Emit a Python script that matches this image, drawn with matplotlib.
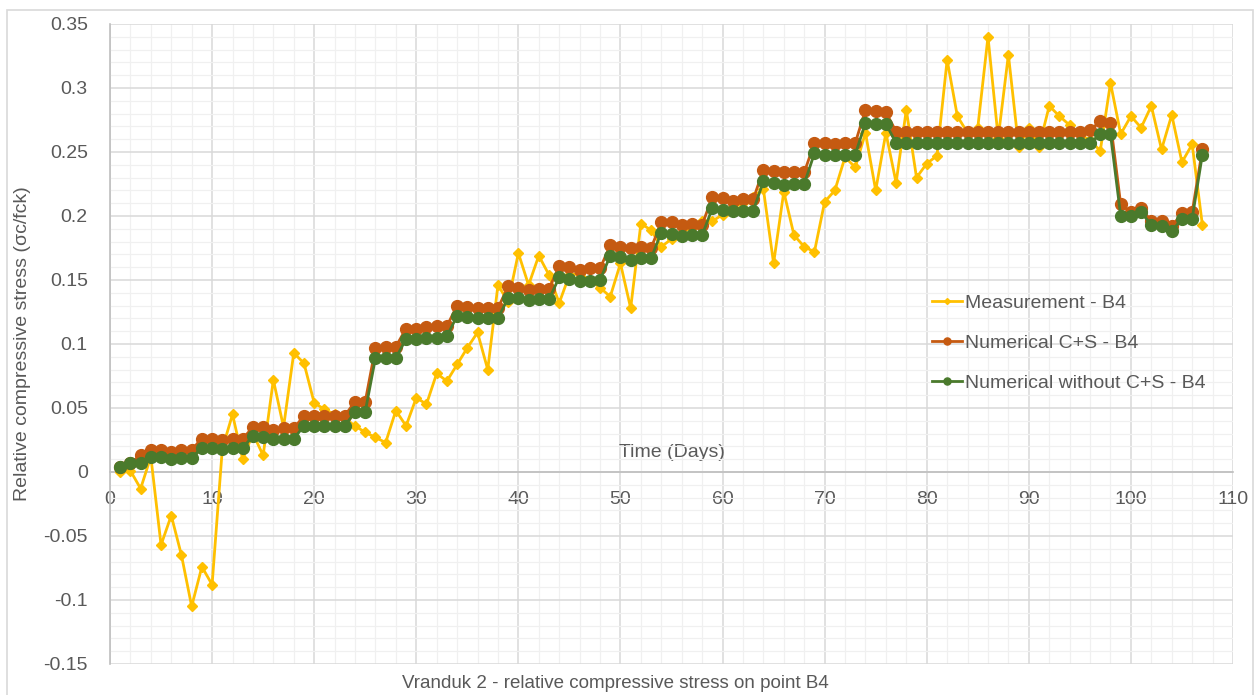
import matplotlib
matplotlib.use("Agg")
import matplotlib.pyplot as plt
from matplotlib.patches import Rectangle

# --- Data ---

days = list(range(1, 108))

measurement = [
    0.000, 0.001, -0.013, 0.012, -0.057, -0.034, -0.065, -0.105, -0.074, -0.088,
    0.018, 0.045, 0.010, 0.030, 0.013, 0.072, 0.035, 0.093, 0.085, 0.054,
    0.049, 0.045, 0.042, 0.036, 0.031, 0.027, 0.023, 0.048, 0.036, 0.058,
    0.053, 0.077, 0.071, 0.084, 0.097, 0.109, 0.080, 0.146, 0.133, 0.171,
    0.146, 0.169, 0.154, 0.132, 0.154, 0.155, 0.150, 0.144, 0.137, 0.163,
    0.128, 0.194, 0.189, 0.176, 0.182, 0.187, 0.191, 0.196, 0.196, 0.201,
    0.207, 0.210, 0.215, 0.221, 0.163, 0.219, 0.185, 0.176, 0.172, 0.211,
    0.220, 0.246, 0.238, 0.265, 0.220, 0.265, 0.226, 0.283, 0.230, 0.241,
    0.247, 0.322, 0.278, 0.265, 0.269, 0.340, 0.261, 0.326, 0.254, 0.269,
    0.254, 0.286, 0.278, 0.271, 0.264, 0.259, 0.251, 0.304, 0.264, 0.278,
    0.269, 0.286, 0.252, 0.279, 0.242, 0.256, 0.193,
]

numerical_cs = [
    0.004, 0.007, 0.013, 0.017, 0.0175, 0.016, 0.017, 0.0175, 0.026, 0.026,
    0.025, 0.026, 0.026, 0.035, 0.035, 0.033, 0.034, 0.034, 0.044, 0.044,
    0.044, 0.044, 0.044, 0.055, 0.055, 0.097, 0.098, 0.098, 0.112, 0.112,
    0.113, 0.114, 0.114, 0.130, 0.129, 0.128, 0.128, 0.128, 0.145, 0.144,
    0.142, 0.143, 0.143, 0.161, 0.160, 0.158, 0.159, 0.159, 0.177, 0.176,
    0.175, 0.176, 0.175, 0.195, 0.195, 0.193, 0.194, 0.193, 0.215, 0.214,
    0.212, 0.213, 0.213, 0.236, 0.235, 0.234, 0.234, 0.234, 0.257, 0.257,
    0.256, 0.257, 0.257, 0.283, 0.282, 0.281, 0.266, 0.266, 0.266, 0.266,
    0.266, 0.266, 0.266, 0.266, 0.266, 0.266, 0.266, 0.266, 0.266, 0.266,
    0.266, 0.266, 0.266, 0.266, 0.266, 0.267, 0.274, 0.273, 0.209, 0.203,
    0.206, 0.196, 0.196, 0.192, 0.202, 0.203, 0.252,
]

numerical_no_cs = [
    0.004, 0.007, 0.007, 0.012, 0.012, 0.010, 0.011, 0.011, 0.019, 0.019,
    0.018, 0.019, 0.019, 0.028, 0.027, 0.026, 0.026, 0.026, 0.036, 0.036,
    0.036, 0.036, 0.036, 0.047, 0.047, 0.089, 0.089, 0.089, 0.104, 0.104,
    0.105, 0.105, 0.106, 0.122, 0.121, 0.120, 0.120, 0.120, 0.136, 0.136,
    0.134, 0.135, 0.135, 0.152, 0.151, 0.149, 0.149, 0.150, 0.169, 0.168,
    0.166, 0.167, 0.167, 0.187, 0.186, 0.184, 0.185, 0.185, 0.206, 0.205,
    0.204, 0.204, 0.204, 0.227, 0.226, 0.224, 0.225, 0.225, 0.249, 0.248,
    0.248, 0.248, 0.248, 0.273, 0.272, 0.272, 0.257, 0.257, 0.257, 0.257,
    0.257, 0.257, 0.257, 0.257, 0.257, 0.257, 0.257, 0.257, 0.257, 0.257,
    0.257, 0.257, 0.257, 0.257, 0.257, 0.257, 0.264, 0.264, 0.200, 0.200,
    0.203, 0.193, 0.192, 0.188, 0.198, 0.198, 0.248,
]

series_labels = ["Measurement - B4", "Numerical C+S - B4", "Numerical without C+S - B4"]
x_ticks = [0, 10, 20, 30, 40, 50, 60, 70, 80, 90, 100, 110]
y_ticks = [-0.15, -0.1, -0.05, 0, 0.05, 0.1, 0.15, 0.2, 0.25, 0.3, 0.35]
y_tick_labels = ["-0.15", "-0.1", "-0.05", "0", "0.05", "0.1", "0.15",
                 "0.2", "0.25", "0.3", "0.35"]

plt.rcParams["font.family"] = ["Liberation Sans", "DejaVu Sans"]
fs = 14
text_color = "#595959"

fig = plt.figure(figsize=(12.58, 6.95), dpi=100)
ax = fig.add_axes([110 / 1258, 1 - 664 / 695, (1233 - 110) / 1258, (664 - 24) / 695])

# outer chart border
fig.patches.append(Rectangle((7 / 1258, -0.05), 1246 / 1258, 1.05 - 10 / 695,
                             transform=fig.transFigure, fill=False,
                             edgecolor="#D9D9D9", linewidth=1.2))

ax.plot(days, measurement, color="#FFC000", marker="D", markersize=5,
        linewidth=2, label=series_labels[0], zorder=3)
ax.plot(days, numerical_cs, color="#C55A11", marker="o", markersize=8.5,
        linewidth=2, label=series_labels[1], zorder=4)
ax.plot(days, numerical_no_cs, color="#4A7A2C", marker="o", markersize=8.5,
        linewidth=2, label=series_labels[2], zorder=5)

ax.set_xlim(0, 110)
ax.set_ylim(-0.15, 0.35)
ax.set_xticks(x_ticks)
ax.set_yticks(y_ticks)
ax.set_xticks(list(range(0, 111, 2)), minor=True)
ax.set_yticks([i / 100 for i in range(-15, 36)], minor=True)
ax.set_yticklabels(y_tick_labels)

ax.grid(which="major", color="#D9D9D9", linewidth=1.1, zorder=0)
ax.grid(which="minor", color="#F0F0F0", linewidth=0.9, zorder=0)
ax.set_axisbelow(True)

for side in ["top", "right"]:
    ax.spines[side].set_visible(False)
ax.spines["bottom"].set_position(("data", 0))
ax.spines["bottom"].set_color("#BFBFBF")
ax.spines["left"].set_color("#BFBFBF")
ax.spines["bottom"].set_linewidth(1.2)
ax.spines["left"].set_linewidth(1.2)

ax.tick_params(which="both", length=0)
ax.tick_params(axis="y", pad=16, labelsize=fs, labelcolor=text_color)
ax.tick_params(axis="x", pad=14, labelsize=fs, labelcolor=text_color)

ax.set_xlabel("Time (Days)", fontsize=fs, color=text_color)
ax.xaxis.set_label_coords(0.5, 0.33)
ax.xaxis.label.set_va("center")
ax.set_ylabel("Relative compressive stress (\u03c3c/fck)", fontsize=fs, color=text_color)
ax.yaxis.set_label_coords(-0.078, 0.5)
ax.yaxis.label.set_va("center")

leg = ax.legend(loc="upper left", bbox_to_anchor=(0.716, 0.605), frameon=False,
                fontsize=fs, handlelength=1.55, handletextpad=0.15,
                labelspacing=1.15, markerscale=0.6, labelcolor=text_color)

fig.text(0.489, 1 - 683 / 695, "Vranduk 2 - relative compressive stress on point B4",
         ha="center", va="center", fontsize=13.5, color=text_color)

fig.savefig("out.png", dpi=100)
